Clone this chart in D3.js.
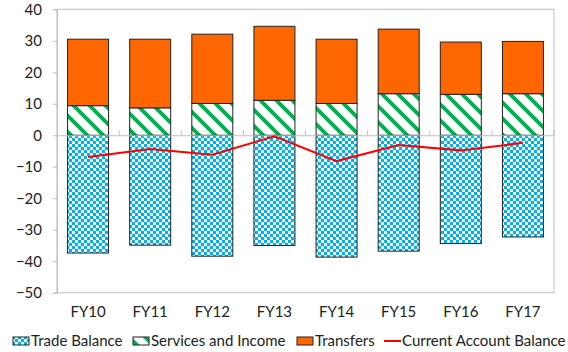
<!DOCTYPE html>
<html>
<head>
<meta charset="utf-8">
<script src="https://cdn.jsdelivr.net/npm/d3@7"></script>
<style>
  html, body { margin: 0; padding: 0; background: #fff; }
  svg { display: block; font-family: Lato, "Open Sans", sans-serif; }
</style>
</head>
<body>
<svg id="chart" width="568" height="352"></svg>
<script>
// Balance of payments components by fiscal year
const years = ["FY10", "FY11", "FY12", "FY13", "FY14", "FY15", "FY16", "FY17"];
const tradeBalance = [-37.4, -34.9, -38.4, -35.0, -38.7, -36.8, -34.4, -32.3];
const servicesIncome = [9.4, 8.7, 10.1, 11.1, 10.1, 13.2, 13.0, 13.2];
const transfers = [21.1, 21.8, 22.0, 23.5, 20.4, 20.5, 16.6, 16.6];
const currentAccount = [-6.9, -4.4, -6.2, -0.3, -8.2, -3.1, -4.8, -2.4];
const yTicks = [40, 30, 20, 10, 0, -10, -20, -30, -40, -50];
const legendLabels = ["Trade Balance", "Services and Income", "Transfers", "Current Account Balance"];

const svg = d3.select("#chart");
const plot = { left: 57, right: 554, top: 9.3, bottom: 292.7 };

const x = d3.scaleBand().domain(years).range([plot.left, plot.right]).paddingInner(0.34).paddingOuter(0.17);
const xc = d3.scaleBand().domain(years).range([plot.left, plot.right]);
const y = d3.scaleLinear().domain([-50, 40]).range([plot.bottom, plot.top]);

// fill patterns
const defs = svg.append("defs");
const checker = defs.append("pattern").attr("id", "checker")
  .attr("patternUnits", "userSpaceOnUse").attr("width", 24).attr("height", 24);
checker.append("rect").attr("width", 24).attr("height", 24).attr("fill", "#fff");
const holes = new Set(["1,2", "5,6"]);
for (let i = 0; i < 8; i++) {
  for (let j = 0; j < 8; j++) {
    if ((i + j) % 2 === 1) continue;
    if (holes.has(i + "," + j)) continue;
    checker.append("rect").attr("x", i * 3).attr("y", j * 3)
      .attr("width", 3).attr("height", 3).attr("fill", "#00b0f0");
  }
}
const stripes = defs.append("pattern").attr("id", "stripes")
  .attr("patternUnits", "userSpaceOnUse").attr("width", 16).attr("height", 16);
stripes.append("rect").attr("width", 16).attr("height", 16).attr("fill", "#fff");
stripes.append("path")
  .attr("d", "M-8,8 L8,24 M0,0 L16,16 M8,-8 L24,8")
  .attr("stroke", "#00b050").attr("stroke-width", 3.8).attr("fill", "none");

// plot area border
svg.append("rect")
  .attr("x", plot.left).attr("y", plot.top)
  .attr("width", plot.right - plot.left).attr("height", plot.bottom - plot.top)
  .attr("fill", "none").attr("stroke", "#bfbfbf").attr("stroke-width", 1);

// y axis
const yAxis = d3.axisLeft(y).tickValues(yTicks).tickSize(4).tickPadding(11);
const gy = svg.append("g").attr("transform", `translate(${plot.left},0)`).call(yAxis);
gy.select(".domain").attr("stroke", "#bfbfbf");
gy.selectAll(".tick line").attr("stroke", "#bfbfbf");
gy.selectAll(".tick text").attr("font-size", 15).attr("fill", "#222")
  .attr("font-family", "Lato, sans-serif");

// bars
const barStroke = "#222";
const groups = svg.append("g");
years.forEach((yr, i) => {
  const bx = x(yr), bw = x.bandwidth();
  groups.append("rect").attr("x", bx).attr("width", bw)
    .attr("y", y(0)).attr("height", y(tradeBalance[i]) - y(0))
    .attr("fill", "url(#checker)").attr("stroke", barStroke).attr("stroke-width", 1);
  groups.append("rect").attr("x", bx).attr("width", bw)
    .attr("y", y(servicesIncome[i])).attr("height", y(0) - y(servicesIncome[i]))
    .attr("fill", "url(#stripes)").attr("stroke", barStroke).attr("stroke-width", 1);
  const top = servicesIncome[i] + transfers[i];
  groups.append("rect").attr("x", bx).attr("width", bw)
    .attr("y", y(top)).attr("height", y(servicesIncome[i]) - y(top))
    .attr("fill", "#ff6600").attr("stroke", barStroke).attr("stroke-width", 1);
});

// category axis at zero
const xAxis = d3.axisTop(xc).tickSize(0).tickFormat("");
const gx0 = svg.append("g").attr("transform", `translate(0,${y(0)})`).call(xAxis);
gx0.select(".domain").attr("stroke", "#bfbfbf");
svg.append("g").selectAll("line")
  .data(years)
  .join("line")
  .attr("x1", d => xc(d) + xc.bandwidth())
  .attr("x2", d => xc(d) + xc.bandwidth())
  .attr("y1", y(0)).attr("y2", y(0) - 5)
  .attr("stroke", "#bfbfbf");

// category labels along the bottom
const gxb = svg.append("g").attr("transform", `translate(0,${plot.bottom})`)
  .call(d3.axisBottom(xc).tickSize(0).tickPadding(14));
gxb.select(".domain").remove();
gxb.selectAll(".tick text").attr("font-size", 15).attr("fill", "#222")
  .attr("font-family", "Lato, sans-serif");

// current account line
const line = d3.line().x((d, i) => xc(years[i]) + xc.bandwidth() / 2).y(d => y(d));
svg.append("path").datum(currentAccount)
  .attr("d", line).attr("fill", "none").attr("stroke", "#ff0000").attr("stroke-width", 2);

// legend
const lg = svg.append("g").attr("font-size", 15).attr("fill", "#222");
const ly = 341;
const items = [
  { x: 13, fill: "url(#checker)" },
  { x: 133, fill: "url(#stripes)" },
  { x: 297, fill: "#ff6600" },
  { x: 384, line: true }
];
items.forEach((it, k) => {
  if (it.line) {
    lg.append("line").attr("x1", it.x).attr("x2", it.x + 17)
      .attr("y1", ly).attr("y2", ly).attr("stroke", "#ff0000").attr("stroke-width", 2);
  } else {
    lg.append("rect").attr("x", it.x).attr("y", ly - 4).attr("width", 16).attr("height", 8)
      .attr("fill", it.fill).attr("stroke", barStroke).attr("stroke-width", 1);
  }
  lg.append("text").attr("x", it.x + 18).attr("y", ly + 5).text(legendLabels[k]);
});
</script>
</body>
</html>
